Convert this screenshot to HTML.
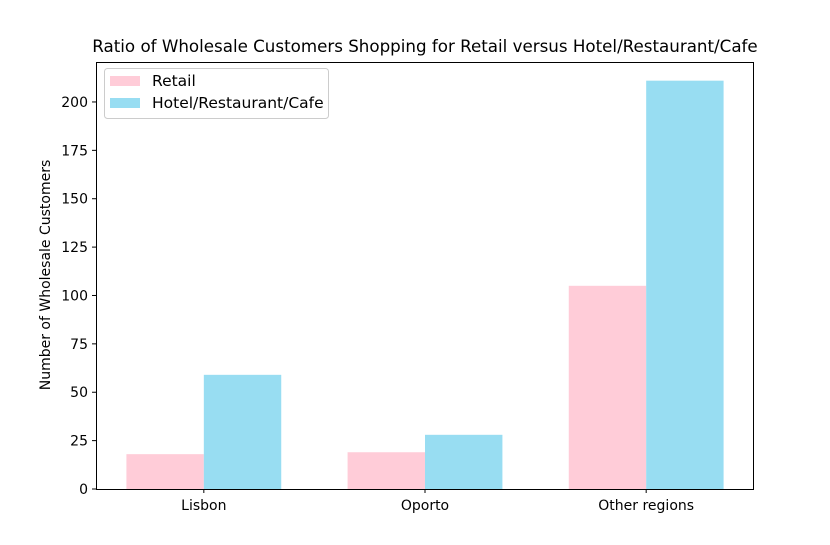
<!DOCTYPE html>
<html><head><meta charset="utf-8"><style>
body{margin:0;background:#fff;}
svg text{font-family:"DejaVu Sans","Liberation Sans",sans-serif;}
</style></head><body>
<svg id="chart" width="830" height="540" viewBox="0 0 830 540">
<rect width="830" height="540" fill="#fff"/>
<text x="425" y="52" font-size="16.7" text-anchor="middle" fill="#000">Ratio of Wholesale Customers Shopping for Retail versus Hotel/Restaurant/Cafe</text>
<g id="bars"></g>
<g id="axes"></g>
<text transform="translate(50,275) rotate(-90)" font-size="14" text-anchor="middle">Number of Wholesale Customers</text>
<g>
<rect x="104.5" y="68.5" width="224" height="50" rx="3" fill="#fff" stroke="#ccc"/>
<rect x="110" y="76" width="30" height="10" fill="#FFCCD8"/>
<text x="152" y="86" font-size="15.5">Retail</text>
<rect x="110" y="98" width="30" height="10" fill="#98DDF2"/>
<text x="152" y="108" font-size="15.5">Hotel/Restaurant/Cafe</text>
</g>
</svg>
<script>
const categories=["Lisbon","Oporto","Other regions"];
const retail=[18,19,105];
const horeca=[59,28,211];
const yTicks=[0,25,50,75,100,125,150,175,200];
const L=96,R=754,T=62,B=489;
const xMin=-0.4875,xMax=2.4875,yMax=220.65;
const xs=v=>L+(v-xMin)/(xMax-xMin)*(R-L);
const ys=v=>B-v/yMax*(B-T);
const ns="http://www.w3.org/2000/svg";
const bars=document.getElementById('bars'),axes=document.getElementById('axes');
function mk(tag,attrs,parent){const e=document.createElementNS(ns,tag);for(const k in attrs)e.setAttribute(k,attrs[k]);parent.appendChild(e);return e;}
const w=0.35;
categories.forEach((c,i)=>{
 let r=mk('rect',{x:xs(i-w),y:ys(retail[i]),width:xs(i)-xs(i-w),height:B-ys(retail[i]),fill:'#FFCCD8'},bars);
 
 
 let h=mk('rect',{x:xs(i),y:ys(horeca[i]),width:xs(i+w)-xs(i),height:B-ys(horeca[i]),fill:'#98DDF2'},bars);
 
 
 mk('line',{x1:xs(i),x2:xs(i),y1:B,y2:B+4,stroke:'#000'},axes);
 let t=mk('text',{x:xs(i),y:B+21,'font-size':14,'text-anchor':'middle'},axes);
 t.textContent=c;
 
 
});
yTicks.forEach(v=>{
 mk('line',{x1:L-4,x2:L,y1:ys(v),y2:ys(v),stroke:'#000'},axes);
 let t=mk('text',{x:L-8,y:ys(v)+5,'font-size':14,'text-anchor':'end'},axes);
 t.textContent=v;
 
 
});
let f=mk('rect',{x:L+0.5,y:T+0.5,width:R-L-1,height:B-T,fill:'none',stroke:'#000'},axes);


</script>
</body></html>
